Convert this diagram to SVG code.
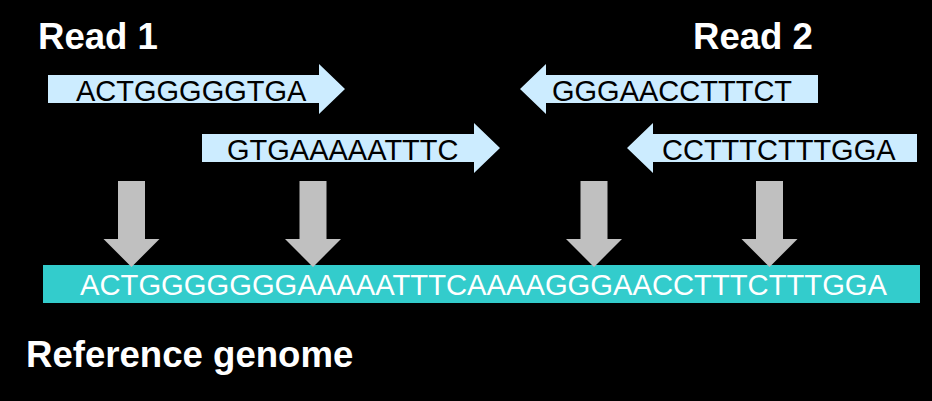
<svg xmlns="http://www.w3.org/2000/svg" width="932" height="401" viewBox="0 0 932 401">
  <style>
    .bg { fill: #000000; }
    .read { fill: #CCECFF; }
    .seq { font-family: "Liberation Sans", Arial, sans-serif; font-size: 29px; fill: #000000; }
    .ref { fill: #33CCCC; }
    .refseq { font-family: "Liberation Sans", Arial, sans-serif; font-size: 29.2px; fill: #FFFFFF; }
    .title { font-family: "Liberation Sans", Arial, sans-serif; font-size: 36.6px; font-weight: bold; fill: #FFFFFF; }
    .down { fill: #C0C0C0; }
  </style>
  <rect class="bg" x="0" y="0" width="932" height="401"/>

  <g id="label-read1"><text class="title" x="38" y="49">Read 1</text></g>
  <g id="label-read2"><text class="title" x="693" y="49">Read 2</text></g>

  <g id="read1a">
    <polygon class="read" points="48,75 319,75 319,64 345,89 319,114 319,103 48,103"/>
    <text class="seq" x="76" y="100.5">ACTGGGGGTGA</text>
  </g>
  <g id="read1b">
    <polygon class="read" points="202,134 474,134 474,123 500,148 474,173 474,162 202,162"/>
    <text class="seq" x="227" y="159.5">GTGAAAAATTTC</text>
  </g>
  <g id="read2a">
    <polygon class="read" points="818,75 546,75 546,64 520,89 546,114 546,103 818,103"/>
    <text class="seq" x="552" y="100.5">GGGAACCTTTCT</text>
  </g>
  <g id="read2b">
    <polygon class="read" points="917,134 653,134 653,123 627,148 653,173 653,162 917,162"/>
    <text class="seq" x="662" y="159.5">CCTTTCTTTGGA</text>
  </g>

  <g id="reference">
    <rect class="ref" x="43" y="265" width="877" height="38"/>
    <text class="refseq" x="80" y="295">ACTGGGGGGGAAAAATTTCAAAAGGGAACCTTTCTTTGGA</text>
  </g>

  <g id="connectors">
    <polygon class="down" points="118,181 145,181 145,239 159.5,239 131.5,267 103.5,239 118,239"/>
    <polygon class="down" points="299.5,181 326.5,181 326.5,239 341,239 313,267 285,239 299.5,239"/>
    <polygon class="down" points="580.5,181 607.5,181 607.5,239 622,239 594,267 566,239 580.5,239"/>
    <polygon class="down" points="756,181 783,181 783,239 797.5,239 769.5,267 741.5,239 756,239"/>
  </g>

  <g id="label-reference"><text class="title" x="26" y="367">Reference genome</text></g>
</svg>
